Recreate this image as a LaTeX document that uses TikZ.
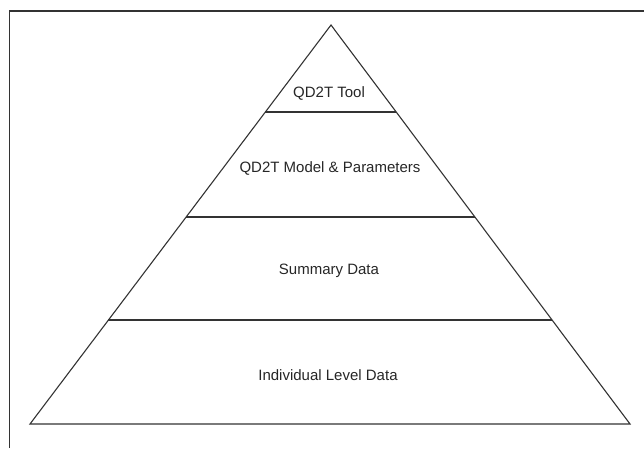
\documentclass[tikz,border=0pt]{standalone}
\usepackage{fontspec}
\setmainfont{Liberation Sans}
\usetikzlibrary{calc}
\begin{document}
\begin{tikzpicture}[x=1pt,y=-1pt,
  edge/.style={draw=black!80,line width=1.1pt},
  lbl/.style={font=\fontsize{15}{18}\selectfont,text=black!85,inner sep=0pt,anchor=base}]
\useasboundingbox (0,0) rectangle (644,448);
\draw[edge,line width=1.3pt] (9.5,448) -- (9.5,11) -- (644,11);
\coordinate (apex) at (331,25);
\coordinate (bl) at (30,424);
\coordinate (br) at (630,424);
\draw[edge,line join=miter] (bl) -- (apex) -- (br) -- cycle;
\coordinate (l1a) at ($(apex)!{87/399}!(bl)$);
\coordinate (l1b) at ($(apex)!{87/399}!(br)$);
\coordinate (l2a) at ($(apex)!{192/399}!(bl)$);
\coordinate (l2b) at ($(apex)!{192/399}!(br)$);
\coordinate (l3a) at ($(apex)!{295/399}!(bl)$);
\coordinate (l3b) at ($(apex)!{295/399}!(br)$);
\draw[edge] (l1a) -- (l1b);
\draw[edge] (l2a) -- (l2b);
\draw[edge] (l3a) -- (l3b);
\node[lbl] (t1) at (329,97) {QD2T Tool};
\node[lbl] (t2) at (330,172) {QD2T Model \& Parameters};
\node[lbl] (t3) at (329,274) {Summary Data};
\node[lbl] (t4) at (328,380) {Individual Level Data};
\end{tikzpicture}
\end{document}
